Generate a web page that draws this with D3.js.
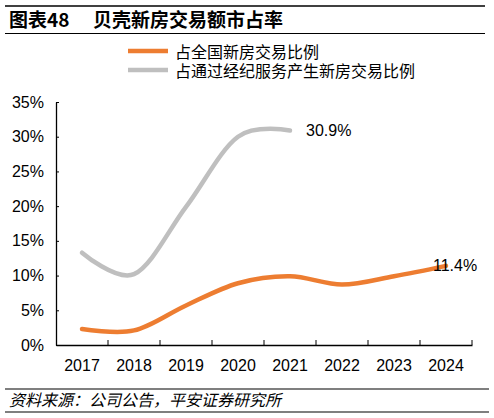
<!DOCTYPE html>
<meta charset="utf-8">
<script src="https://d3js.org/d3.v7.min.js"></script>
<style>
  body { margin: 0; background: #fff; }
  text { font-family: "Liberation Sans", Arial, "Noto Sans CJK SC", sans-serif; fill: #000; }
  .cjk { font-family: "Noto Sans CJK SC", sans-serif; }
</style>
<body>
<div id="chart"></div>
<script>

  var years = ["2017", "2018", "2019", "2020", "2021", "2022", "2023", "2024"];
  var nationalShare = [2.3, 2.1, 5.7, 8.9, 9.9, 8.7, 9.9, 11.4];
  var brokerShare = [13.3, 10.2, 19.9, 30.0, 30.9];
  var yTicks = [0, 5, 10, 15, 20, 25, 30, 35];
  var seriesNames = ["占全国新房交易比例", "占通过经纪服务产生新房交易比例"];
  var colors = ["#ED7D31", "#BFBFBF"];

  var W = 494, H = 418;
  var margin = {top: 102, right: 22, bottom: 73, left: 56},
    width = W - margin.left - margin.right,
    height = H - margin.top - margin.bottom;

  const svg = d3.select("#chart")
    .append("svg")
      .attr("width", W)
      .attr("height", H);

  // title block
  svg.append("line").attr("x1", 5).attr("x2", 485).attr("y1", 6).attr("y2", 6)
    .attr("stroke", "#000").attr("stroke-width", 1.5);
  svg.append("line").attr("x1", 5).attr("x2", 485).attr("y1", 33.5).attr("y2", 33.5)
    .attr("stroke", "#000").attr("stroke-width", 1.2);
  svg.append("text").attr("class", "cjk").attr("x", 9).attr("y", 27)
    .style("font-size", "19px").style("font-weight", "bold")
    .text("图表48");
  svg.append("text").attr("class", "cjk").attr("x", 93).attr("y", 27)
    .style("font-size", "19px").style("font-weight", "bold")
    .text("贝壳新房交易额市占率");

  // legend
  seriesNames.forEach(function(name, i) {
    var ly = 51 + i * 19;
    svg.append("line").attr("x1", 128).attr("x2", 168).attr("y1", ly).attr("y2", ly)
      .attr("stroke", colors[i]).attr("stroke-width", 4.5);
    svg.append("text").attr("class", "cjk").attr("x", 175).attr("y", ly)
      .attr("dominant-baseline", "central")
      .style("font-size", "16px")
      .text(name);
  });

  const g = svg.append("g")
    .attr("transform", `translate(${margin.left},${margin.top})`);

  const x = d3.scaleBand().domain(years).range([0, width]);
  const y = d3.scaleLinear().domain([0, 35]).range([height, 0]);

  // y axis
  const yAxis = g.append("g")
    .call(d3.axisLeft(y).tickValues(yTicks).tickFormat(d => d + "%")
      .tickSizeInner(-3).tickSizeOuter(0).tickPadding(12));
  yAxis.select(".domain").attr("stroke", "#000").attr("stroke-width", 1.3);
  yAxis.selectAll(".tick line").attr("stroke", "#000");
  yAxis.selectAll("text").style("font-size", "16px");

  // x axis
  const xAxis = g.append("g")
    .attr("transform", `translate(0,${height})`)
    .call(d3.axisBottom(x).tickSize(0).tickPadding(15));
  xAxis.select(".domain").attr("stroke", "#000").attr("stroke-width", 1.3);
  xAxis.selectAll("text").style("font-size", "16px");
  xAxis.selectAll(".edge")
    .data(years)
    .join("line")
      .attr("x1", d => x(d) + x.bandwidth())
      .attr("x2", d => x(d) + x.bandwidth())
      .attr("y1", 0).attr("y2", -5)
      .attr("stroke", "#000");

  const line = d3.line()
    .x((d, i) => x(years[i]) + x.bandwidth() / 2)
    .y(d => y(d))
    .curve(d3.curveCardinal.tension(0));

  g.append("path")
    .datum(brokerShare)
    .attr("d", line)
    .attr("fill", "none")
    .attr("stroke", colors[1])
    .attr("stroke-width", 4.5)
    .attr("stroke-linecap", "round");

  g.append("path")
    .datum(nationalShare)
    .attr("d", line)
    .attr("fill", "none")
    .attr("stroke", colors[0])
    .attr("stroke-width", 4.5)
    .attr("stroke-linecap", "round");

  // end labels
  var lastB = brokerShare.length - 1;
  g.append("text")
    .attr("x", x(years[lastB]) + x.bandwidth() / 2 + 16)
    .attr("y", y(brokerShare[lastB]))
    .attr("dominant-baseline", "central")
    .style("font-size", "16px")
    .text(brokerShare[lastB].toFixed(1) + "%");
  var lastN = nationalShare.length - 1;
  g.append("text")
    .attr("x", x(years[lastN]) + x.bandwidth() / 2 - 13)
    .attr("y", y(nationalShare[lastN]))
    .attr("dominant-baseline", "central")
    .style("font-size", "16px")
    .text(nationalShare[lastN].toFixed(1) + "%");

  // source block
  svg.append("line").attr("x1", 5).attr("x2", 489).attr("y1", 389).attr("y2", 389)
    .attr("stroke", "#000").attr("stroke-width", 1.2);
  svg.append("line").attr("x1", 5).attr("x2", 489).attr("y1", 412).attr("y2", 412)
    .attr("stroke", "#000").attr("stroke-width", 1.2);
  svg.append("text").attr("class", "cjk").attr("x", 9).attr("y", 406)
    .style("font-size", "16px").style("font-style", "italic")
    .text("资料来源：公司公告，平安证券研究所");

</script>
</body>
